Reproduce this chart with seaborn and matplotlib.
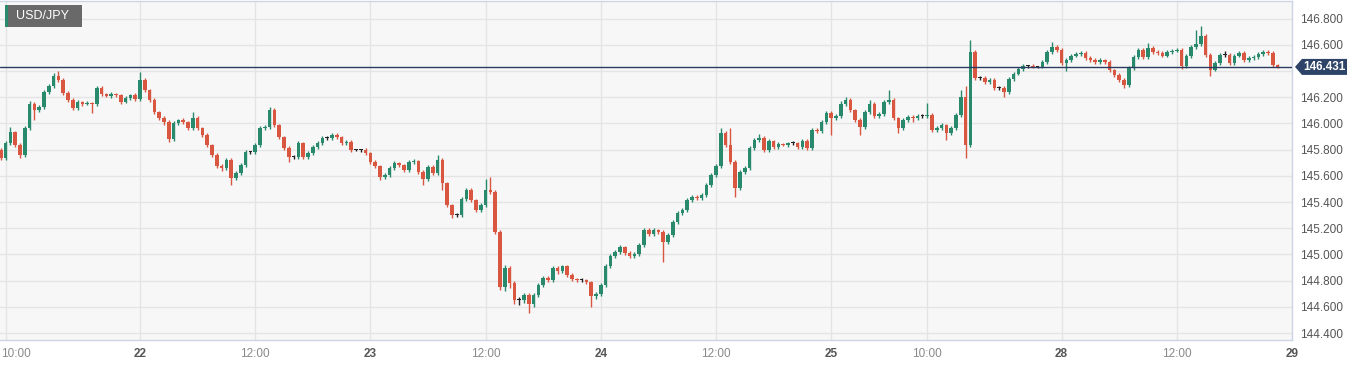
import numpy as np
import matplotlib.pyplot as plt
import seaborn as sns
import matplotlib.transforms as mtransforms
from matplotlib.patches import Polygon, Rectangle

# USD/JPY, half-hour candles on a trading-hours axis (22 00:00 = 0, weekend removed)
pair = "USD/JPY"
last_price = 146.431
first_open = 145.797

closes = [
    145.736, 145.850, 145.934, 145.835, 145.759, 145.965, 146.148, 146.102, 146.125, 146.240,
    146.286, 146.362, 146.331, 146.232, 146.179, 146.118, 146.163, 146.148, 146.156, 146.148,
    146.270, 146.224, 146.209, 146.224, 146.217, 146.163, 146.194, 146.217, 146.186, 146.331,
    146.255, 146.179, 146.087, 146.041, 146.011, 145.881, 146.003, 146.026, 146.011, 145.965,
    146.041, 145.965, 145.911, 145.835, 145.759, 145.675, 145.660, 145.721, 145.583, 145.621,
    145.682, 145.782, 145.782, 145.835, 145.965, 145.973, 146.102, 145.988, 145.896, 145.812,
    145.744, 145.744, 145.850, 145.744, 145.774, 145.820, 145.850, 145.889, 145.889, 145.911,
    145.896, 145.850, 145.858, 145.797, 145.797, 145.797, 145.774, 145.705, 145.675, 145.591,
    145.606, 145.660, 145.698, 145.682, 145.644, 145.705, 145.713, 145.629, 145.576, 145.667,
    145.621, 145.721, 145.545, 145.377, 145.301, 145.301, 145.423, 145.492, 145.415, 145.339,
    145.377, 145.492, 145.476, 145.171, 144.751, 144.896, 144.782, 144.652, 144.652, 144.690,
    144.621, 144.690, 144.766, 144.820, 144.805, 144.896, 144.873, 144.911, 144.843, 144.812,
    144.805, 144.805, 144.789, 144.682, 144.698, 144.766, 144.911, 144.988, 145.018, 145.056,
    145.011, 144.988, 145.003, 145.072, 145.186, 145.156, 145.186, 145.171, 145.095, 145.148,
    145.247, 145.316, 145.339, 145.415, 145.438, 145.431, 145.453, 145.530, 145.606, 145.675,
    145.927, 145.835, 145.705, 145.507, 145.629, 145.660, 145.812, 145.873, 145.889, 145.797,
    145.866, 145.820, 145.843, 145.835, 145.850, 145.850, 145.820, 145.866, 145.812, 145.950,
    145.942, 146.011, 146.079, 146.041, 146.056, 146.148, 146.179, 146.102, 146.026, 145.973,
    146.087, 146.148, 146.056, 146.072, 146.163, 146.179, 146.041, 145.965, 146.026, 146.049,
    146.041, 146.056, 146.056, 146.064, 145.950, 145.965, 145.988, 145.927, 145.965, 146.064,
    146.202, 145.835, 146.545, 146.347, 146.347, 146.316, 146.331, 146.270, 146.270, 146.240,
    146.339, 146.377, 146.415, 146.438, 146.438, 146.431, 146.431, 146.469, 146.545, 146.583,
    146.560, 146.461, 146.484, 146.515, 146.530, 146.537, 146.499, 146.484, 146.469, 146.484,
    146.469, 146.408, 146.370, 146.331, 146.293, 146.423, 146.507, 146.560, 146.507, 146.576,
    146.545, 146.537, 146.515, 146.545, 146.553, 146.560, 146.438, 146.515, 146.583, 146.606,
    146.667, 146.522, 146.408, 146.461, 146.522, 146.522, 146.461, 146.515, 146.537, 146.484,
    146.499, 146.507, 146.530, 146.545, 146.537, 146.446, 146.431,
]

# wick lengths above / below the body, in thousandths of a yen
wick_up = [
    15, 12, 38, 10, 12, 15, 20, 15, 18, 15,
    15, 20, 38, 12, 15, 15, 12, 10, 12, 10,
    15, 12, 10, 12, 10, 10, 12, 10, 12, 60,
    15, 10, 12, 10, 15, 12, 15, 10, 12, 10,
    45, 12, 10, 12, 10, 12, 15, 15, 12, 15,
    12, 15, 10, 15, 15, 12, 25, 12, 10, 10,
    12, 12, 15, 10, 12, 15, 12, 15, 12, 15,
    12, 10, 12, 12, 10, 10, 12, 10, 12, 10,
    12, 15, 15, 10, 10, 15, 15, 10, 12, 15,
    12, 40, 15, 10, 10, 12, 15, 15, 12, 10,
    15, 80, 100, 15, 15, 20, 15, 12, 20, 15,
    12, 15, 15, 12, 15, 15, 15, 12, 12, 15,
    10, 12, 10, 12, 15, 15, 15, 15, 15, 15,
    12, 12, 15, 15, 15, 12, 12, 10, 12, 15,
    15, 12, 15, 15, 12, 12, 15, 15, 15, 15,
    38, 12, 130, 12, 15, 15, 15, 15, 30, 12,
    15, 10, 12, 10, 10, 12, 10, 15, 12, 15,
    12, 12, 15, 12, 15, 25, 25, 12, 10, 12,
    15, 30, 12, 15, 15, 76, 12, 10, 15, 12,
    12, 12, 15, 90, 12, 12, 12, 10, 12, 15,
    50, 80, 92, 15, 12, 12, 15, 12, 12, 15,
    12, 12, 12, 12, 10, 15, 10, 12, 15, 38,
    12, 12, 12, 12, 12, 15, 12, 12, 12, 12,
    10, 12, 10, 12, 12, 12, 15, 12, 12, 38,
    12, 12, 12, 15, 12, 12, 12, 15, 12, 107,
    77, 12, 12, 12, 12, 30, 12, 12, 12, 12,
    12, 12, 12, 12, 12, 12, 8,
]
wick_dn = [
    15, 12, 12, 12, 23, 12, 15, 75, 15, 12,
    12, 15, 12, 12, 15, 15, 12, 12, 10, 70,
    12, 12, 10, 15, 12, 15, 10, 12, 12, 12,
    12, 15, 15, 12, 25, 25, 12, 15, 12, 15,
    12, 15, 15, 12, 15, 15, 20, 15, 50, 12,
    15, 12, 12, 12, 15, 15, 12, 15, 12, 12,
    40, 15, 15, 12, 15, 12, 12, 15, 12, 12,
    12, 15, 12, 12, 10, 12, 15, 15, 15, 25,
    15, 15, 12, 15, 15, 12, 15, 15, 45, 12,
    15, 15, 50, 15, 25, 15, 15, 12, 12, 15,
    15, 12, 15, 15, 25, 30, 35, 30, 35, 20,
    68, 25, 15, 15, 15, 15, 20, 12, 15, 12,
    12, 15, 15, 84, 20, 15, 15, 12, 12, 12,
    15, 12, 15, 15, 12, 12, 15, 12, 153, 15,
    15, 12, 12, 12, 15, 12, 12, 15, 12, 12,
    15, 15, 15, 69, 15, 12, 12, 12, 12, 15,
    12, 15, 12, 10, 12, 12, 15, 12, 15, 12,
    12, 12, 12, 130, 12, 12, 12, 15, 15, 62,
    12, 12, 15, 12, 12, 12, 15, 40, 15, 12,
    30, 12, 12, 12, 15, 12, 12, 54, 12, 12,
    12, 99, 15, 15, 15, 12, 15, 15, 15, 38,
    12, 12, 10, 12, 12, 12, 12, 12, 12, 12,
    12, 12, 60, 12, 12, 12, 15, 12, 12, 15,
    12, 15, 15, 12, 20, 12, 12, 12, 15, 12,
    12, 15, 12, 12, 12, 12, 25, 12, 15, 12,
    12, 15, 46, 12, 12, 12, 12, 12, 12, 12,
    12, 12, 12, 12, 12, 12, 10,
]

x_ticks = [-14, 0, 12, 24, 36, 48, 60, 72, 82, 96, 108, 120]
x_labels = ["10:00", "22", "12:00", "23", "12:00", "24", "12:00", "25", "10:00", "28", "12:00", "29"]
y_ticks = [144.4, 144.6, 144.8, 145.0, 145.2, 145.4, 145.6, 145.8, 146.0, 146.2, 146.4, 146.6, 146.8]

GREEN = "#29896d"
RED = "#d95640"

sns.set_theme(style="white")
plt.rcParams['font.family'] = ['Liberation Sans', 'DejaVu Sans']

closes = np.array(closes)
opens = np.concatenate([[first_open], closes[:-1]])
highs = np.maximum(opens, closes) + np.array(wick_up) / 1000
lows = np.minimum(opens, closes) - np.array(wick_dn) / 1000
t = -14.5 + 0.5 * np.arange(len(closes))

cols = np.where(closes >= opens, GREEN, RED)
cols = np.where(np.abs(closes - opens) < 0.002, "#222222", cols)
body = np.maximum(np.abs(closes - opens), 0.006)
bottom = np.minimum(opens, closes)

W, H = 1363, 366
fig = plt.figure(figsize=(W / 100, H / 100), dpi=100)
ax = fig.add_axes([0, 26 / H, 1292 / W, 339 / H])
ax.set_facecolor("#f7f7f7")
ax.set_xlim(-14.583, 120)
ax.set_ylim(144.347, 146.934)

ax.vlines(t, lows, highs, colors=cols, lw=1.0, zorder=3)
ax.bar(t, body, bottom=bottom, width=0.36, color=cols, linewidth=0, zorder=4)

ax.axhline(last_price, color="#2b3d5e", lw=1.0, zorder=5)

# grid + ticks
ax.set_yticks(y_ticks)
ax.set_yticklabels(["" if abs(v - 146.4) < 1e-6 else f"{v:.3f}" for v in y_ticks])
ax.yaxis.tick_right()
ax.set_xticks(x_ticks)
ax.set_xticklabels(x_labels)
ax.grid(True, color="#e4e4e4", lw=1, zorder=0)
ax.tick_params(axis="y", length=0, pad=6, labelsize=8.5, labelcolor="#555555")
ax.tick_params(axis="x", length=0, pad=6, labelsize=8.5)
for lab in ax.get_xticklabels():
    if ":" in lab.get_text():
        lab.set_color("#8a8a8a")
    else:
        lab.set_color("#555555")
        lab.set_fontweight("bold")
first = ax.get_xticklabels()[0]
first.set_horizontalalignment("left")
first.set_transform(first.get_transform() + mtransforms.ScaledTranslation(-5 / 100, 0, fig.dpi_scale_trans))

for side in ["top", "right", "bottom"]:
    ax.spines[side].set_color("#cdd5e6")
    ax.spines[side].set_linewidth(1.0)
ax.spines["left"].set_visible(False)

# last-price tag on the right axis
fig.canvas.draw()
yd = ax.transData.transform((0, last_price))[1]
xr = ax.transAxes.transform((1, 0))[0]
tag = Polygon([(xr + 3, yd), (xr + 10, yd + 8), (xr + 55, yd + 8), (xr + 55, yd - 8), (xr + 10, yd - 8)],
              closed=True, transform=None, facecolor="#2d4468", edgecolor="none", zorder=10)
fig.patches.append(tag)
fig.text((xr + 32) / W, yd / H, f"{last_price:.3f}", color="white", fontsize=8.5,
         fontweight="bold", ha="center", va="center", zorder=20)

# pair badge, top left
fig.patches.append(Rectangle((5 / W, 1 - 27 / H), 77 / W, 22 / H, transform=fig.transFigure,
                             facecolor="#696969", edgecolor="none", zorder=10))
fig.patches.append(Rectangle((5 / W, 1 - 27 / H), 3 / W, 22 / H, transform=fig.transFigure,
                             facecolor=GREEN, edgecolor="none", zorder=11))
fig.text(43 / W, 1 - 16 / H, pair, color="white", fontsize=9, ha="center", va="center", zorder=20)

fig.savefig("out.png", dpi=100)
